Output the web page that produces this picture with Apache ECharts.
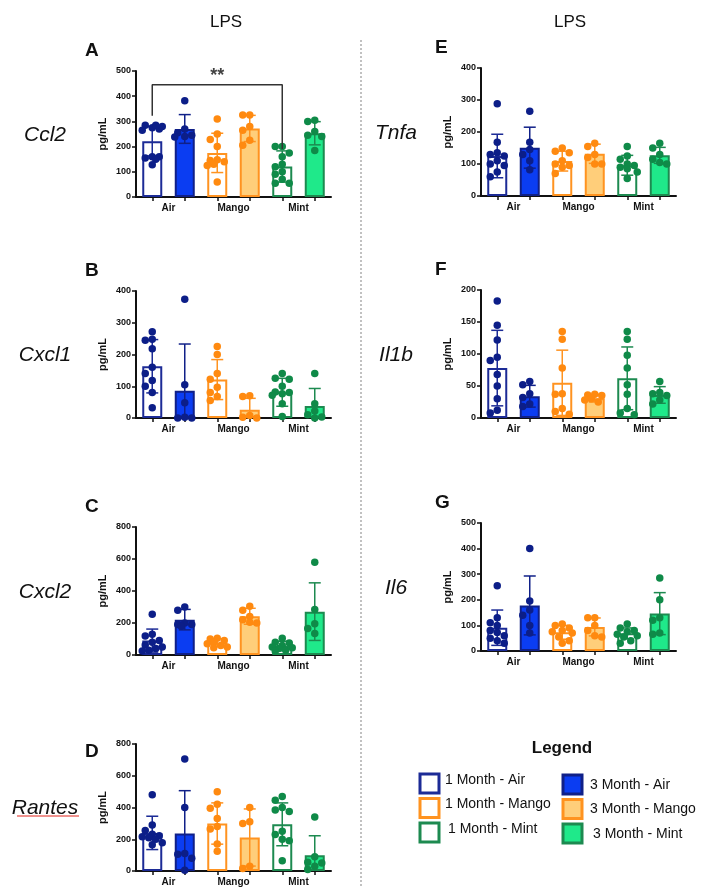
<!DOCTYPE html>
<html>
<head>
<meta charset="utf-8">
<script src="https://cdn.jsdelivr.net/npm/echarts@6/dist/echarts.min.js"></script>
<style>
  html, body { margin: 0; background: #fff; }
  #chart { width: 701px; height: 888px; }
</style>
</head>
<body>
<div id="chart"></div>
<script>
const groups = ['Air', 'Mango', 'Mint']
const legendNames = ['1 Month - Air', '3 Month - Air', '1 Month - Mango', '3 Month - Mango', '1 Month - Mint', '3 Month - Mint']

// bar order: 1M Air, 3M Air, 1M Mango, 3M Mango, 1M Mint, 3M Mint
const ccl2Mean = [221, 270, 175, 272, 121, 253]
const ccl2Sd = [58, 57, 78, 52, 62, 46]
const ccl2Points = [
  [275, 285, 270, 280, 285, 265, 160, 155, 160, 150, 128],
  [382, 270, 255, 245, 240, 238],
  [310, 250, 228, 200, 148, 145, 140, 130, 125, 60],
  [325, 325, 280, 265, 225, 205],
  [200, 200, 175, 160, 130, 120, 100, 90, 70, 55, 55],
  [305, 300, 260, 245, 240, 185]
]
const ccl2Bracket = [[0.5, 322], [0.5, 445], [4.5, 445], [4.5, 190]]

const cxcl1Mean = [163, 86, 121, 26, 81, 38]
const cxcl1Sd = [84, 147, 63, 36, 44, 55]
const cxcl1Points = [
  [272, 248, 245, 218, 160, 140, 118, 100, 80, 32],
  [374, 105, 48, 2, 0, 0],
  [225, 200, 140, 122, 97, 80, 68, 55],
  [70, 68, 8, 2, 0],
  [140, 125, 122, 100, 82, 80, 76, 72, 45, 5],
  [140, 45, 22, 10, 3, 0]
]

const cxcl2Mean = [90, 221, 77, 242, 56, 271]
const cxcl2Sd = [72, 64, 25, 50, 30, 180]
const cxcl2Points = [
  [255, 130, 118, 90, 80, 62, 50, 40, 30, 25],
  [300, 280, 200, 190, 190, 180],
  [105, 100, 90, 80, 70, 60, 50, 45],
  [305, 280, 240, 220, 200, 205],
  [105, 80, 75, 60, 50, 45, 40, 30, 25],
  [580, 285, 195, 165, 135]
]

const rantesMean = [240, 236, 299, 211, 294, 100]
const rantesSd = [105, 270, 130, 180, 135, 122]
const rantesPoints = [
  [480, 290, 255, 232, 222, 215, 210, 200, 178, 165],
  [705, 400, 110, 105, 80, 5],
  [500, 420, 395, 330, 280, 265, 170, 125],
  [400, 310, 300, 30, 15],
  [470, 445, 400, 385, 375, 250, 230, 200, 190, 65],
  [340, 90, 55, 50, 30, 10]
]

const tnfaMean = [125, 151, 109, 132, 96, 127]
const tnfaSd = [68, 64, 31, 30, 31, 25]
const tnfaPoints = [
  [288, 168, 135, 130, 125, 110, 100, 95, 75, 60],
  [265, 168, 145, 130, 110, 82],
  [150, 140, 135, 110, 100, 95, 90, 70],
  [165, 155, 130, 120, 100, 100],
  [155, 125, 115, 100, 95, 90, 85, 75, 55],
  [165, 150, 130, 115, 105, 100]
]

const il1bMean = [78, 34, 55, 31, 62, 36]
const il1bSd = [59, 17, 51, 6, 49, 13]
const il1bPoints = [
  [183, 145, 122, 95, 90, 68, 50, 30, 12, 8],
  [57, 52, 38, 32, 22, 18],
  [135, 123, 78, 38, 37, 15, 10, 6],
  [37, 36, 35, 30, 28, 25],
  [135, 123, 98, 78, 52, 37, 15, 8, 5],
  [57, 40, 38, 35, 28, 22]
]

const il6Mean = [91, 178, 73, 94, 69, 146]
const il6Sd = [69, 115, 27, 35, 21, 82]
const il6Points = [
  [255, 130, 110, 100, 80, 72, 60, 50, 40, 30],
  [400, 195, 160, 140, 100, 70],
  [105, 100, 90, 80, 75, 70, 55, 40, 30],
  [130, 130, 100, 80, 60, 55],
  [105, 90, 80, 75, 65, 60, 55, 40, 30],
  [285, 200, 130, 120, 70, 65]
]

// colours per bar
const edge = ['#1c2b96', '#102088', '#ff9320', '#ff9320', '#1d8a50', '#1d8a50']
const fill = ['#ffffff', '#0b3df2', '#ffffff', '#ffce7a', '#ffffff', '#1fe98a']
const dotColor = ['#0c1e88', '#0c1e88', '#ff8a10', '#ff8a10', '#0f8a48', '#0f8a48']

const panels = [
  { letter: 'A', gene: 'Ccl2', max: 500, step: 100, mean: ccl2Mean, sd: ccl2Sd, pts: ccl2Points, left: 136, top: 71, h: 126, col: 0 },
  { letter: 'B', gene: 'Cxcl1', max: 400, step: 100, mean: cxcl1Mean, sd: cxcl1Sd, pts: cxcl1Points, left: 136, top: 291, h: 127, col: 0 },
  { letter: 'C', gene: 'Cxcl2', max: 800, step: 200, mean: cxcl2Mean, sd: cxcl2Sd, pts: cxcl2Points, left: 136, top: 527, h: 128, col: 0 },
  { letter: 'D', gene: 'Rantes', max: 800, step: 200, mean: rantesMean, sd: rantesSd, pts: rantesPoints, left: 136, top: 744, h: 127, col: 0 },
  { letter: 'E', gene: 'Tnfa', max: 400, step: 100, mean: tnfaMean, sd: tnfaSd, pts: tnfaPoints, left: 481, top: 68, h: 128, col: 1 },
  { letter: 'F', gene: 'Il1b', max: 200, step: 50, mean: il1bMean, sd: il1bSd, pts: il1bPoints, left: 481, top: 290, h: 128, col: 1 },
  { letter: 'G', gene: 'Il6', max: 500, step: 100, mean: il6Mean, sd: il6Sd, pts: il6Points, left: 481, top: 523, h: 128, col: 1 }
]
const W = 195
const FONT = 'Liberation Sans, Arial, sans-serif'

// simple beeswarm: horizontal offsets (px) so dots don't pile up
function swarm(vals, pxPerUnit) {
  const placed = []
  return vals.map(v => {
    const y = v * pxPerUnit
    const cands = [0, -7, 7, -3.5, 3.5, -10, 10]
    let best = 0, bestD = -1
    for (const c of cands) {
      let d = Infinity
      for (const p of placed) d = Math.min(d, Math.hypot(p[0] - c, p[1] - y))
      if (d >= 6.5) { best = c; bestD = d; break }
      if (d > bestD) { bestD = d; best = c }
    }
    placed.push([best, y])
    return best
  })
}

const grid = [], xAxis = [], yAxis = [], series = [], graphic = []

panels.forEach((p, i) => {
  grid.push({ left: p.left, top: p.top, width: W, height: p.h })
  xAxis.push({
    gridIndex: i, type: 'value', min: 0, max: 6,
    axisLine: { show: true, onZero: false, lineStyle: { color: '#111', width: 2 } },
    axisTick: { show: true, length: 4, customValues: [0.5, 1.5, 2.5, 3.5, 4.5, 5.5], lineStyle: { color: '#111', width: 1.5 } },
    axisLabel: {
      customValues: [1, 3, 5], margin: 6,
      formatter: v => groups[(v - 1) / 2],
      color: '#111', fontWeight: 'bold', fontSize: 10, fontFamily: FONT
    },
    splitLine: { show: false }
  })
  yAxis.push({
    gridIndex: i, type: 'value', min: 0, max: p.max, interval: p.step,
    name: 'pg/mL', nameLocation: 'middle', nameGap: 28, nameRotate: 90,
    nameTextStyle: { color: '#111', fontWeight: 'bold', fontSize: 11, fontFamily: FONT },
    axisLine: { show: true, lineStyle: { color: '#111', width: 2 } },
    axisTick: { show: true, length: 4, lineStyle: { color: '#111', width: 1.5 } },
    axisLabel: { color: '#111', fontWeight: 'bold', fontSize: 9, fontFamily: FONT, margin: 5 },
    splitLine: { show: false }
  })

  series.push({
    type: 'bar', xAxisIndex: i, yAxisIndex: i, barWidth: 20, z: 2,
    data: p.mean.map((m, k) => ({
      value: [k + 0.5, m],
      itemStyle: { color: fill[k], borderColor: edge[k], borderWidth: 2 }
    }))
  })

  series.push({
    type: 'custom', xAxisIndex: i, yAxisIndex: i, z: 3,
    data: p.mean.map((m, k) => [k + 0.5, m, p.sd[k], k]),
    renderItem(params, api) {
      const x = api.value(0), m = api.value(1), s = api.value(2), k = api.value(3)
      const top = api.coord([x, m + s]), bot = api.coord([x, Math.max(0, m - s)])
      const st = { stroke: edge[k], lineWidth: 1.5 }
      const cap = 6
      const children = [
        { type: 'line', shape: { x1: top[0], y1: top[1], x2: bot[0], y2: bot[1] }, style: st },
        { type: 'line', shape: { x1: top[0] - cap, y1: top[1], x2: top[0] + cap, y2: top[1] }, style: st }
      ]
      if (m - s > 0) {
        children.push({ type: 'line', shape: { x1: bot[0] - cap, y1: bot[1], x2: bot[0] + cap, y2: bot[1] }, style: st })
      }
      return { type: 'group', children }
    }
  })

  const slot = W / 6
  const pxPerUnit = p.h / p.max
  const dots = []
  p.pts.forEach((vals, k) => {
    const offs = swarm(vals, pxPerUnit)
    vals.forEach((v, j) => dots.push({ value: [k + 0.5 + offs[j] / slot, v], itemStyle: { color: dotColor[k], opacity: 1 } }))
  })
  series.push({
    type: 'scatter', xAxisIndex: i, yAxisIndex: i, z: 4,
    symbolSize: 7.5, data: dots
  })

  // panel letter + gene name
  const letterX = p.col === 0 ? 92 : 442
  graphic.push({
    type: 'text', left: letterX - 7, top: (p.letter === 'D' ? 753 : p.top - 19) - 11,
    style: { text: p.letter, font: 'bold 19px ' + FONT, fill: '#111' }
  })
  const geneX = p.col === 0 ? 45 : 396
  graphic.push({
    type: 'text', x: geneX, y: p.top + p.h / 2 + 1,
    style: { text: p.gene, font: 'italic 21px ' + FONT, fill: '#111', align: 'center', verticalAlign: 'middle' }
  })
})

// significance bracket in panel A
series.push({
  type: 'line', xAxisIndex: 0, yAxisIndex: 0, z: 5,
  data: ccl2Bracket, symbol: 'none', animation: false,
  lineStyle: { color: '#333', width: 1.5 }
})
series.push({
  type: 'scatter', xAxisIndex: 0, yAxisIndex: 0, z: 5,
  data: [[2.5, 445]], symbolSize: 0,
  label: { show: true, formatter: '**', position: 'top', distance: 0, color: '#111', fontWeight: 'bold', fontSize: 18, fontFamily: FONT }
})

// headers and divider
graphic.push(
  { type: 'text', x: 226, y: 22, style: { text: 'LPS', font: '17px ' + FONT, fill: '#111', align: 'center', verticalAlign: 'middle' } },
  { type: 'text', x: 570, y: 22, style: { text: 'LPS', font: '17px ' + FONT, fill: '#111', align: 'center', verticalAlign: 'middle' } },
  { type: 'line', shape: { x1: 361, y1: 40, x2: 361, y2: 888 }, style: { stroke: '#999', lineWidth: 1.2, lineDash: [2, 2] } }
)

// red spell-check squiggle under "Rantes"
const squiggle = []
for (let x = 17; x <= 79; x += 2) squiggle.push([x, (x / 2) % 2 === 0 ? 818 : 816])
graphic.push({ type: 'polyline', shape: { points: squiggle }, style: { stroke: '#e0241c', lineWidth: 1, fill: null } })

// legend box
graphic.push({ type: 'text', x: 562, y: 748, style: { text: 'Legend', font: 'bold 17px ' + FONT, fill: '#111', align: 'center', verticalAlign: 'middle' } })
legendNames.forEach((name, k) => {
  const c = k % 2, r = Math.floor(k / 2)
  const bx = c === 0 ? 420 : 563
  const by = (c === 0 ? 774 : 775) + r * 24.5
  graphic.push({ type: 'rect', shape: { x: bx, y: by, width: 19, height: 19 }, style: { fill: fill[k], stroke: edge[k], lineWidth: 3 } })
  graphic.push({
    type: 'text', x: bx + (c === 0 ? 25 : 27) + (r === 2 ? 3 : 0), y: by + (c === 0 ? 6 : 10),
    style: { text: name, font: '14px ' + FONT, fill: '#111', verticalAlign: 'middle' }
  })
})

const chart = echarts.init(document.getElementById('chart'))
chart.setOption({
  animation: false,
  backgroundColor: '#fff',
  grid, xAxis, yAxis, series, graphic
})
</script>
</body>
</html>
